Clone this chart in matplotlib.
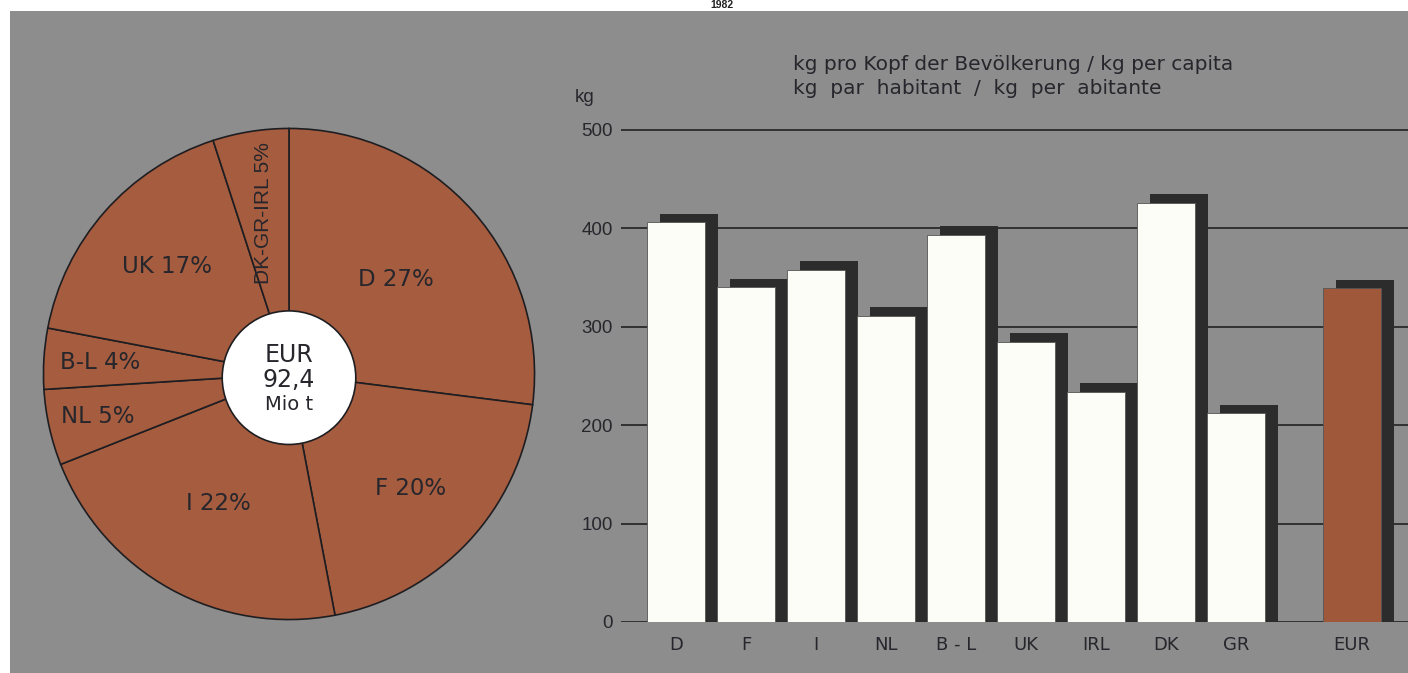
import numpy as np
import matplotlib.pyplot as plt
from matplotlib.patches import Rectangle, Circle

# Pie: share of total consumption (clockwise from the top)
pie_labels = ["D 27%", "F 20%", "I 22%", "NL 5%", "B-L 4%", "UK 17%", "DK-GR-IRL 5%"]
pie_shares = [27, 20, 22, 5, 4, 17, 5]
pie_label_radius = [0.58, 0.68, 0.60, 0.80, 0.77, 0.66, 0.665]
total_label = ["EUR", "92,4", "Mio t"]

# Bars: kg per capita
countries = ["D", "F", "I", "NL", "B - L", "UK", "IRL", "DK", "GR"]
kg_per_capita = [406, 340, 358, 311, 393, 285, 234, 426, 212]
eur_label = "EUR"
eur_value = 339
y_ticks = [0, 100, 200, 300, 400, 500]

BG = "#8d8d8d"
BROWN = "#a65c3e"
DARK = "#2c2c2c"
TXT = "#26262c"
WIDE = ["DejaVu Sans"]
NARROW = ["Liberation Sans", "DejaVu Sans"]

plt.rcParams["font.family"] = NARROW

W, H = 1408, 673
fig = plt.figure(figsize=(W / 100, H / 100), dpi=100, facecolor="white")

# grey page with a thin white margin on the top and left
fig.patches.append(Rectangle((10 / W, 0), 1, 1 - 11 / H, transform=fig.transFigure,
                             facecolor=BG, edgecolor="none", zorder=-5))
fig.text(722 / W, 1 - 5.5 / H, "1982", ha="center", va="center", fontsize=7.5,
         fontweight="bold", color="#222")

# ---- pie ----
cx, cy, r = 289, 374, 248
ax_p = fig.add_axes([(cx - r) / W, (H - cy - r) / H, 2 * r / W, 2 * r / H])
ax_p.set_facecolor("none")
wedges, _ = ax_p.pie(pie_shares, startangle=90, counterclock=False, radius=1,
                     colors=[BROWN] * len(pie_shares),
                     wedgeprops=dict(edgecolor="#1e1e22", linewidth=1.2))
for w, lab, rad in zip(wedges, pie_labels, pie_label_radius):
    mid = np.deg2rad((w.theta1 + w.theta2) / 2)
    if lab.startswith("DK"):
        # narrow slice: label runs along the radius
        ax_p.text(rad * np.cos(mid), rad * np.sin(mid), lab, ha="center", va="center",
                  fontsize=15, color=TXT, rotation=90, family=NARROW)
    else:
        ax_p.text(rad * np.cos(mid), rad * np.sin(mid), lab, ha="center", va="center",
                  fontsize=16.5, color=TXT, family=WIDE)
ax_p.add_patch(Circle((0, -0.015), 0.272, facecolor="white", edgecolor="#1e1e22",
                      linewidth=1.2, zorder=5))
ax_p.text(0, 0.077, total_label[0], ha="center", va="center", fontsize=17,
          color=TXT, zorder=6, family=WIDE)
ax_p.text(0, -0.025, total_label[1], ha="center", va="center", fontsize=17,
          color=TXT, zorder=6, family=WIDE)
ax_p.text(0, -0.125, total_label[2], ha="center", va="center", fontsize=14,
          color=TXT, zorder=6, family=WIDE)
ax_p.set_xlim(-1.01, 1.01)
ax_p.set_ylim(-1.01, 1.01)
ax_p.axis("off")

# ---- bars ----
px_per_kg = 492 / 500
y_top = 520
ax_b = fig.add_axes([621 / W, (H - 622) / H, 1 - 621 / W, y_top * px_per_kg / H])
ax_b.set_facecolor("none")
step = 70.0
xs = np.arange(len(countries))
eur_x = 9.65
bw = 58 / step
dx, dy = 13 / step, 9
for x, v in zip(xs, kg_per_capita):
    ax_b.bar(x + dx, v + dy, width=bw, color=DARK, zorder=2)
    ax_b.bar(x, v, width=bw, color="#fdfdf8", edgecolor="#555", linewidth=0.6, zorder=3)
ax_b.bar(eur_x + dx, eur_value + dy, width=bw, color=DARK, zorder=2)
ax_b.bar(eur_x, eur_value, width=bw, color="#a0583b", edgecolor="#555", linewidth=0.6, zorder=3)

for t in y_ticks:
    ax_b.axhline(t, color="#2a2a2a", linewidth=1.3, zorder=1)
ax_b.set_xlim(-55 / step, (W - 676) / step)
ax_b.set_ylim(0, y_top)
ax_b.set_yticks(y_ticks)
ax_b.set_yticklabels([str(t) for t in y_ticks], fontsize=13.5, color=TXT)
ax_b.set_xticks(list(xs) + [eur_x])
ax_b.set_xticklabels(countries + [eur_label], fontsize=13, color=TXT, family=WIDE)
ax_b.tick_params(length=0, axis="y", pad=6)
ax_b.tick_params(length=0, axis="x", pad=10)
for s in ax_b.spines.values():
    s.set_visible(False)

fig.text(585 / W, 1 - 98 / H, "kg", ha="center", va="center", fontsize=13.5, color=TXT)
fig.text(793 / W, 1 - 64 / H, "kg pro Kopf der Bevölkerung / kg per capita",
         ha="left", va="center", fontsize=14.5, color=TXT, family=WIDE)
fig.text(793 / W, 1 - 89 / H, "kg  par  habitant  /  kg  per  abitante",
         ha="left", va="center", fontsize=14.5, color=TXT, family=WIDE)

fig.savefig("out.png", dpi=100, facecolor="white")
